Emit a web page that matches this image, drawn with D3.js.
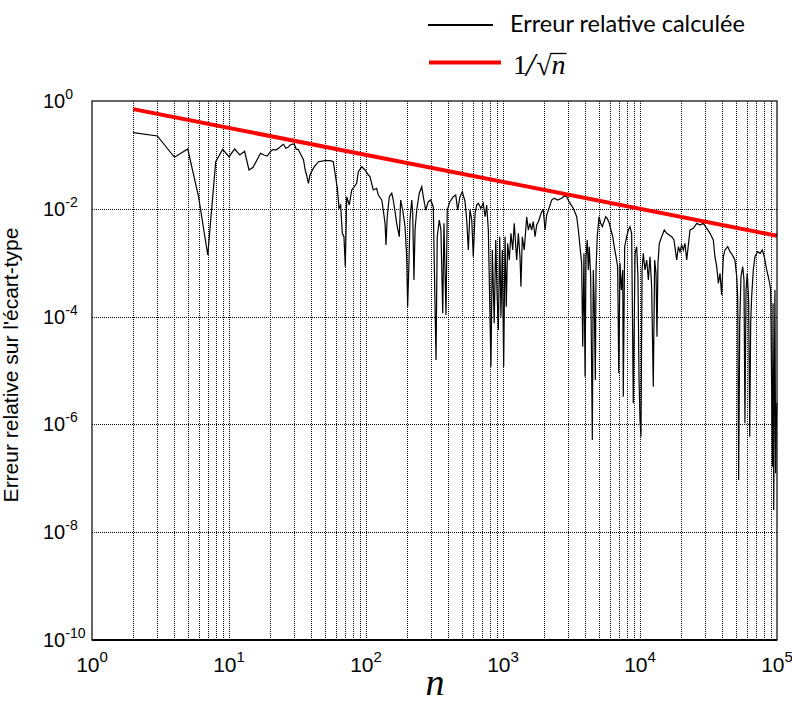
<!DOCTYPE html>
<html>
<head>
<meta charset="utf-8">
<title>Erreur relative sur l'écart-type</title>
<script src="https://cdn.jsdelivr.net/npm/d3@7"></script>
<style>
  body { margin: 0; background: #fff; }
  svg text { font-family: Arial, "Liberation Sans", sans-serif; fill: #000; }
</style>
</head>
<body>
<svg width="792" height="704"></svg>
<script>
// base-10 exponents (n, relative error)
var nExp = [
  0.301,0.477,0.602,0.699,0.778,0.845,0.903,0.954,1.000,1.041,1.079,1.114,1.146,1.176,1.204,1.230,1.255,1.279,1.301,1.322,
  1.342,1.362,1.380,1.398,1.415,1.431,1.447,1.462,1.477,1.491,1.505,1.544,1.556,1.568,1.580,1.591,1.602,1.623,1.653,1.699,
  1.740,1.761,1.774,1.791,1.803,1.815,1.827,1.839,1.849,1.859,1.878,1.896,1.915,1.932,1.944,1.969,1.993,2.017,
  2.029,2.053,2.078,2.090,2.115,2.126,2.139,2.146,2.155,2.170,2.188,2.199,2.212,2.224,2.243,2.253,2.268,2.285,2.297,2.304,
  2.314,2.321,2.334,2.341,2.350,2.358,2.370,2.389,2.407,2.418,2.436,2.455,2.472,2.491,2.511,2.520,2.535,2.547,2.560,2.569,
  2.584,2.593,2.613,2.637,2.655,2.669,2.686,2.703,2.723,2.735,2.747,2.759,2.772,2.783,2.796,2.808,2.820,2.839,2.856,2.869,
  2.881,2.893,2.905,2.912,2.922,2.936,2.947,2.956,2.966,2.976,2.985,2.995,3.005,3.015,3.024,3.034,3.046,3.058,3.071,3.082,
  3.100,3.112,3.124,3.131,3.141,3.155,3.173,3.185,3.197,3.209,3.221,3.234,3.246,3.258,3.270,3.282,3.294,3.307,3.319,3.336,
  3.355,3.374,3.399,3.428,3.447,3.465,3.482,3.513,3.538,3.550,3.562,3.574,3.582,3.591,3.599,3.606,3.615,3.623,3.630,3.640,
  3.647,3.652,3.659,3.666,3.674,3.679,3.688,3.701,3.713,3.725,3.737,3.750,3.761,3.776,3.788,3.801,3.812,3.825,3.837,3.845,
  3.854,3.864,3.874,3.878,3.888,3.903,3.915,3.927,3.939,3.951,3.964,3.976,3.985,3.993,4.000,4.007,4.015,4.024,4.036,4.049,
  4.061,4.073,4.085,4.097,4.107,4.117,4.124,4.131,4.141,4.158,4.177,4.195,4.214,4.231,4.248,4.268,4.280,4.292,4.304,4.316,
  4.328,4.341,4.353,4.365,4.389,4.414,4.438,4.462,4.487,4.511,4.535,4.547,4.560,4.572,4.584,4.596,4.608,4.620,4.640,4.657,
  4.674,4.693,4.706,4.713,4.720,4.728,4.737,4.750,4.759,4.766,4.774,4.783,4.793,4.801,4.808,4.815,4.827,4.839,4.859,4.878,
  4.893,4.907,4.925,4.942,4.954,4.961,4.966,4.971,4.976,4.980,4.985,4.990,4.995,5.000
];
var errExp = [
  -0.588,-0.649,-1.045,-0.891,-1.780,-2.857,-1.126,-0.896,-1.033,-0.891,-1.002,-0.933,-1.280,-1.230,-1.095,-0.970,-1.002,-1.020,-0.941,-0.896,
  -0.909,-0.878,-0.835,-0.803,-0.878,-0.859,-0.816,-0.798,-0.803,-0.896,-0.896,-1.095,-1.280,-1.391,-1.527,-1.373,-1.312,-1.219,-1.126,-1.108,
  -1.108,-1.126,-1.341,-1.620,-1.991,-1.929,-2.455,-2.518,-3.074,-1.776,-1.929,-1.651,-1.590,-1.527,-1.312,-1.219,-1.280,-1.373,
  -1.404,-1.651,-1.620,-1.744,-1.837,-2.022,-2.269,-2.672,-2.147,-1.776,-1.712,-1.837,-2.054,-2.269,-2.518,-1.837,-2.022,-2.332,-2.889,-3.816,
  -2.950,-2.208,-1.837,-2.084,-3.321,-2.393,-2.022,-1.712,-1.590,-1.776,-2.022,-1.868,-1.837,-1.961,-4.805,-2.518,-2.208,-2.393,-3.939,-2.269,
  -3.970,-2.022,-1.868,-1.776,-1.744,-2.022,-1.776,-1.683,-1.868,-2.208,-2.764,-2.022,-2.208,-2.889,-2.084,-1.930,-1.898,-1.991,-1.898,-2.147,
  -1.930,-2.393,-4.002,-4.930,-2.764,-4.124,-2.579,-3.507,-4.249,-2.518,-4.002,-2.764,-4.930,-2.518,-3.816,-2.640,-2.950,-2.455,-2.764,-2.269,
  -2.950,-2.455,-2.889,-3.445,-2.518,-2.764,-2.147,-2.393,-2.269,-2.393,-2.239,-2.518,-2.301,-2.239,-2.147,-2.054,-2.022,-2.393,-2.115,-1.991,
  -1.837,-1.805,-1.837,-1.805,-1.763,-1.776,-1.868,-1.991,-2.147,-2.393,-2.703,-3.011,-4.558,-2.826,-5.115,-2.889,-2.579,-3.135,-2.703,-3.260,
  -4.991,-6.289,-3.135,-3.753,-5.176,-3.135,-2.518,-2.147,-2.269,-2.332,-2.239,-2.147,-2.176,-2.269,-2.393,-2.518,-2.703,-2.889,-3.074,-5.052,
  -3.011,-3.507,-3.135,-5.486,-2.703,-2.518,-2.393,-2.332,-2.455,-5.609,-2.826,-2.703,-3.260,-5.176,-5.918,-6.228,-3.135,-2.826,-3.135,-2.950,
  -3.321,-2.889,-3.445,-5.301,-2.950,-3.197,-4.373,-3.011,-2.640,-2.518,-2.393,-2.455,-2.486,-2.518,-2.579,-2.950,-2.703,-2.796,-2.672,-2.764,
  -2.640,-2.950,-2.672,-2.393,-2.362,-2.269,-2.301,-2.269,-2.362,-2.455,-2.579,-2.889,-3.074,-3.382,-3.197,-3.599,-2.889,-2.764,-2.703,-2.796,
  -2.857,-2.950,-3.260,-3.631,-7.032,-4.124,-3.260,-3.074,-3.321,-5.980,-3.507,-3.197,-3.692,-6.228,-4.124,-3.631,-3.135,-2.889,-2.796,-2.826,
  -2.764,-2.889,-3.135,-3.321,-3.507,-5.362,-6.785,-3.753,-7.588,-5.486,-3.507,-6.907,-5.980,-5.600
];

// reference curve 1/sqrt(n), straight on log-log axes
var refN = [2, 100000];
var refErr = [0.7071, 0.003162];

var xTickExp = [0, 1, 2, 3, 4, 5];
var yTickExp = [0, -2, -4, -6, -8, -10];
var yGridExp = [-2, -4, -6, -8];

var svg = d3.select("svg"),
    margin = {top: 101, right: 15, bottom: 64, left: 92},
    width = +svg.attr("width") - margin.left - margin.right,
    height = +svg.attr("height") - margin.top - margin.bottom,
    g = svg.append("g").attr("transform", "translate(" + margin.left + "," + margin.top + ")");

var x = d3.scaleLog().domain([1, 1e5]).range([0, width]);
var y = d3.scaleLog().domain([1e-10, 1]).range([height, 0]);

// vertical grid at every 1..9 x 10^k
g.append("g").selectAll("line")
  .data(x.ticks().filter(function(d) { return d > 1 && d < 1e5; }))
  .enter().append("line")
  .attr("x1", function(d) { return Math.round(x(d)) + 0.5; })
  .attr("x2", function(d) { return Math.round(x(d)) + 0.5; })
  .attr("y1", 0).attr("y2", height)
  .attr("stroke", "#000").attr("stroke-width", 1).attr("stroke-dasharray", "1,1");

g.append("g").selectAll("line")
  .data(yGridExp)
  .enter().append("line")
  .attr("x1", 0).attr("x2", width)
  .attr("y1", function(d) { return Math.round(y(Math.pow(10, d))) + 0.5; })
  .attr("y2", function(d) { return Math.round(y(Math.pow(10, d))) + 0.5; })
  .attr("stroke", "#000").attr("stroke-width", 1).attr("stroke-dasharray", "1,1");

var errPts = nExp.map(function(e, i) { return [Math.pow(10, e), Math.pow(10, errExp[i])]; });
var line = d3.line().x(function(d) { return x(d[0]); }).y(function(d) { return y(d[1]); });

g.append("path")
  .datum(errPts)
  .attr("fill", "none").attr("stroke", "#000").attr("stroke-width", 1.2)
  .attr("d", line);

g.append("path")
  .datum(refN.map(function(n, i) { return [n, refErr[i]]; }))
  .attr("fill", "none").attr("stroke", "#ff0000").attr("stroke-width", 4)
  .attr("d", line);

// frame
g.append("rect")
  .attr("x", 0).attr("y", 0).attr("width", width).attr("height", height)
  .attr("fill", "none").attr("stroke", "#000").attr("stroke-width", 1.2);
g.append("line")
  .attr("x1", 0).attr("x2", width).attr("y1", height).attr("y2", height)
  .attr("stroke", "#000").attr("stroke-width", 2);

// x tick labels 10^k
var xl = g.append("g").selectAll("text")
  .data(xTickExp)
  .enter().append("text")
  .attr("x", function(d) { return x(Math.pow(10, d)); })
  .attr("y", height + 32)
  .attr("text-anchor", "middle")
  .style("font-size", "21px");
xl.append("tspan").text("10");
xl.append("tspan").attr("dy", -10).style("font-size", "15px").text(function(d) { return d; });

// y tick labels
var yl = svg.append("g").selectAll("text")
  .data(yTickExp)
  .enter().append("text")
  .attr("x", 43)
  .attr("y", function(d) { return margin.top + y(Math.pow(10, d)) + 7; })
  .style("font-size", "20px");
yl.append("tspan").text("10");
yl.append("tspan").attr("dy", -9).style("font-size", "14px").text(function(d) { return d === 0 ? "0" : "-" + (-d); });

// axis titles
svg.append("text")
  .attr("transform", "translate(18," + 365 + ") rotate(-90)")
  .attr("text-anchor", "middle")
  .style("font-size", "21px")
  .text("Erreur relative sur l'écart-type");

svg.append("text")
  .attr("x", 435).attr("y", 695)
  .attr("text-anchor", "middle")
  .style("font-family", "'Liberation Serif', 'Times New Roman', serif")
  .style("font-style", "italic")
  .style("font-size", "38px")
  .text("n");

// legend
var leg = svg.append("g");
leg.append("line").attr("x1", 428).attr("x2", 493).attr("y1", 25).attr("y2", 25)
  .attr("stroke", "#000").attr("stroke-width", 2);
leg.append("text").attr("x", 510).attr("y", 32)
  .style("font-family", "Lato, 'Open Sans', sans-serif")
  .style("font-size", "23.5px")
  .text("Erreur relative calculée");
leg.append("line").attr("x1", 429).attr("x2", 501).attr("y1", 62.5).attr("y2", 62.5)
  .attr("stroke", "#ff0000").attr("stroke-width", 4);

var serif = "'Liberation Serif', 'Times New Roman', serif";
var cx = 513;
var t1 = leg.append("text").attr("x", cx).attr("y", 74)
  .style("font-family", serif).style("font-size", "28px").text("1");
cx += t1.node().getComputedTextLength() - 1;
var t2 = leg.append("text").attr("x", cx).attr("y", 76)
  .style("font-family", serif).style("font-style", "italic").style("font-size", "33px").text("/");
cx += t2.node().getComputedTextLength() + 1;
var t3 = leg.append("text").attr("x", cx).attr("y", 75)
  .style("font-family", serif).style("font-size", "28px").text("√");
cx += t3.node().getComputedTextLength();
var t4 = leg.append("text").attr("x", cx).attr("y", 74)
  .style("font-family", serif).style("font-style", "italic").style("font-size", "28px").text("n");
var nEnd = cx + t4.node().getComputedTextLength() + 1;
var rb = t3.node().getBBox();
leg.append("line").attr("x1", rb.x + rb.width - 1.5).attr("x2", nEnd)
  .attr("y1", rb.y + 3.5).attr("y2", rb.y + 3.5)
  .attr("stroke", "#000").attr("stroke-width", 1.3);
</script>
</body>
</html>
